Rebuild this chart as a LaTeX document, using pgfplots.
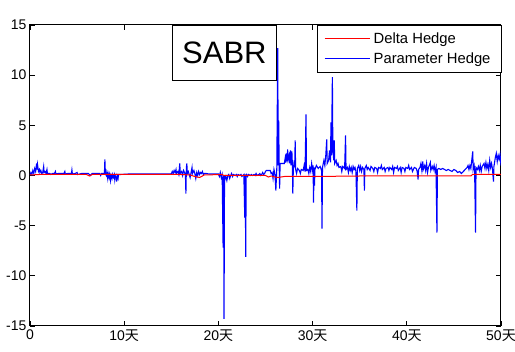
\documentclass[border=0pt]{standalone}
\usepackage{fontspec}
\setmainfont{Liberation Sans}
\newfontfamily\cjk{Noto Sans CJK SC}
\usepackage{pgfplots}
\pgfplotsset{compat=1.18}
\begin{document}
\begin{tikzpicture}
\begin{axis}[
  at={(0pt,0pt)}, anchor=south west,
  scale only axis, width=471pt, height=301pt,
  xmin=0, xmax=50, ymin=-15, ymax=15,
  xtick={0,10,20,30,40,50},
  xticklabels={0,10{\cjk 天},20{\cjk 天},30{\cjk 天},40{\cjk 天},50{\cjk 天}},
  ytick={-15,-10,-5,0,5,10,15},
  yticklabels={-15,-10,-5,0,5,10,15},
  tick align=inside, major tick length=5pt,
  tick style={black, line width=0.8pt},
  axis line style={black, line width=1pt},
  ticklabel style={font=\fontsize{14}{16}\selectfont},
  legend style={at={(1,1)}, anchor=north east, outer sep=0pt, draw=black, line width=0.8pt, fill=white,
    font=\fontsize{14.8}{16}\selectfont, inner xsep=7pt, inner ysep=4pt, row sep=1pt,
    nodes={inner sep=3.5pt}},
  legend cell align=left,
  legend image code/.code={\draw[#1, line width=1pt] (0pt,0pt) -- (45pt,0pt);},
]
\addlegendimage{red}\addlegendentry{Delta Hedge}
\addlegendimage{blue}\addlegendentry{Parameter Hedge}
\addplot[blue, line width=1.1pt, forget plot] coordinates {
(0.00,0.05) (0.10,0.30) (0.20,0.10) (0.30,0.50) (0.40,0.20) (0.50,0.70) (0.60,0.40) (0.70,1.20)
(0.75,0.60) (0.80,1.10) (0.90,0.40) (1.00,0.60) (1.05,0.30) (1.15,0.50) (1.25,0.20) (1.35,0.30)
(1.45,0.90) (1.50,0.30) (1.60,0.40) (1.70,0.20) (1.80,0.60) (1.85,0.20) (2.00,0.20) (2.10,0.20)
(2.20,0.10) (2.40,0.20) (2.60,0.20) (2.70,0.40) (2.75,0.15) (3.00,0.20) (3.40,0.20) (3.60,0.20)
(3.70,0.40) (3.75,0.15) (4.00,0.20) (4.40,0.20) (4.45,0.55) (4.50,0.15) (4.80,0.20) (5.00,0.30)
(5.05,0.10) (5.50,0.20) (6.00,0.20) (6.20,0.20) (6.40,0.00) (6.60,0.20) (7.00,0.20) (7.40,0.20)
(7.50,0.00) (7.60,0.20) (7.90,0.20) (7.95,1.60) (8.00,0.20) (8.10,0.00) (8.15,0.30) (8.25,-0.30)
(8.30,0.20) (8.40,-0.20) (8.45,0.10) (8.55,-0.50) (8.60,0.00) (8.70,-0.30) (8.75,0.10) (8.85,-0.20)
(8.95,0.10) (9.00,-0.40) (9.05,0.00) (9.15,-0.20) (9.20,-0.60) (9.25,0.00) (9.35,-0.30) (9.40,0.10)
(9.60,0.10) (10.5,0.15) (11.5,0.15) (12.5,0.15) (13.5,0.15) (14.5,0.15) (15.00,0.15) (15.10,0.40)
(15.20,0.20) (15.30,0.50) (15.40,0.30) (15.50,0.60) (15.55,0.20) (15.70,0.40) (15.80,0.10) (15.90,1.20)
(15.95,0.20) (16.10,0.40) (16.20,0.00) (16.30,0.50) (16.40,0.30) (16.50,0.10) (16.55,-1.80) (16.60,0.80)
(16.65,1.20) (16.70,0.20) (16.80,0.40) (16.90,0.10) (17.00,-0.20) (17.10,0.30) (17.20,0.80) (17.25,0.20)
(17.40,0.50) (17.50,0.20) (17.60,-0.30) (17.70,0.30) (17.80,0.00) (17.90,0.40) (18.00,0.10) (18.10,0.30)
(18.20,0.20) (18.30,0.40) (18.40,0.10) (18.50,0.20) (18.70,0.20) (19.00,0.15) (19.50,0.15) (20.00,0.15)
(20.10,-0.10) (20.20,0.30) (20.30,-0.20) (20.40,0.10) (20.50,-7.20) (20.55,0.00) (20.60,-14.30) (20.65,0.00)
(20.70,-0.40) (20.80,-0.10) (20.90,-0.50) (21.00,0.00) (21.10,0.10) (21.20,-0.30) (21.30,0.00) (21.40,0.20)
(21.50,-0.10) (21.60,0.10) (21.80,0.00) (21.90,0.10) (22.00,-0.10) (22.10,0.10) (22.30,0.00) (22.40,0.10)
(22.50,-0.10) (22.60,0.00) (22.70,0.10) (22.80,-4.20) (22.85,0.10) (22.90,-8.10) (22.95,0.00) (23.00,0.10)
(23.10,-0.10) (23.20,0.10) (23.40,0.00) (23.50,0.10) (23.60,0.00) (23.80,0.10) (23.90,0.00) (24.00,0.20)
(24.10,0.00) (24.30,0.10) (24.40,0.20) (24.50,0.00) (24.60,0.10) (24.70,0.30) (24.80,0.10) (24.90,0.20)
(25.00,0.40) (25.10,0.50) (25.50,0.50) (25.60,0.20) (25.70,0.30) (25.80,-0.30) (25.90,0.60) (26.00,0.20)
(26.10,-1.50) (26.20,0.70) (26.30,12.70) (26.35,1.00) (26.40,5.50) (26.45,1.20) (26.50,-1.30) (26.55,1.20)
(27.00,1.20) (27.10,1.80) (27.15,1.30) (27.25,2.20) (27.30,1.40) (27.35,2.60) (27.40,1.60) (27.50,2.00)
(27.55,1.20) (27.65,2.50) (27.70,1.00) (27.80,2.40) (27.85,1.20) (27.90,-1.80) (27.95,0.50) (28.05,1.50)
(28.10,0.80) (28.15,3.50) (28.20,0.60) (28.30,0.20) (28.40,0.70) (28.60,0.50) (28.70,0.20) (28.80,0.60)
(29.00,0.50) (29.10,1.00) (29.20,0.40) (29.30,6.10) (29.35,0.50) (29.50,0.60) (29.60,0.20) (29.70,0.80)
(29.80,0.40) (29.90,1.20) (30.00,0.50) (30.05,1.00) (30.10,-2.70) (30.15,0.80) (30.20,-1.00) (30.25,0.60)
(30.40,1.00) (30.60,0.70) (30.80,0.90) (30.95,0.50) (31.00,-5.30) (31.05,0.80) (31.20,1.50) (31.30,1.00)
(31.40,2.00) (31.50,3.60) (31.55,1.20) (31.70,1.50) (31.80,2.50) (31.90,1.30) (31.95,5.30) (32.00,2.00)
(32.10,9.80) (32.15,2.50) (32.25,1.50) (32.30,3.50) (32.35,1.20) (32.50,1.50) (32.60,1.00) (32.70,1.20)
(32.80,0.80) (33.00,0.90) (33.10,0.40) (33.20,0.90) (33.40,0.70) (33.50,4.00) (33.55,0.60) (33.70,0.80)
(33.80,0.30) (33.90,0.90) (34.00,0.50) (34.10,0.80) (34.20,0.30) (34.30,0.90) (34.40,0.60) (34.50,0.80)
(34.60,0.40) (34.70,-3.50) (34.75,0.70) (34.90,1.00) (35.00,0.50) (35.10,0.90) (35.20,0.40) (35.30,0.80)
(35.45,0.60) (35.50,-1.50) (35.55,0.70) (35.70,1.00) (35.80,0.60) (35.90,0.80) (36.10,0.50) (36.20,0.90)
(36.40,0.70) (36.50,0.40) (36.60,0.80) (36.80,0.70) (36.90,0.30) (37.00,0.80) (37.20,0.70) (37.30,1.00)
(37.40,0.60) (37.60,0.80) (37.70,0.40) (37.80,0.70) (38.00,0.80) (38.10,0.50) (38.20,0.80) (38.40,0.60)
(38.50,0.90) (38.60,0.30) (38.70,0.80) (38.90,0.70) (39.00,0.90) (39.10,0.50) (39.30,0.80) (39.40,0.30)
(39.50,0.80) (39.70,0.70) (39.80,0.40) (39.90,0.80) (40.10,0.70) (40.20,1.00) (40.30,0.60) (40.50,0.80)
(40.60,0.40) (40.80,0.80) (41.00,0.70) (41.10,0.40) (41.20,-0.40) (41.25,0.60) (41.40,0.80) (41.50,1.20)
(41.60,0.50) (41.70,1.40) (41.75,0.60) (41.90,1.00) (42.00,0.50) (42.10,1.20) (42.20,0.30) (42.30,0.80)
(42.50,1.30) (42.55,0.50) (42.70,0.90) (42.80,0.60) (42.90,1.00) (43.00,0.40) (43.10,0.80) (43.20,-5.70)
(43.25,0.60) (43.40,0.70) (43.60,0.60) (43.80,0.70) (44.00,0.60) (44.20,0.50) (44.40,0.60) (44.60,0.50)
(44.80,0.40) (45.00,0.60) (45.20,0.50) (45.40,0.30) (45.60,0.40) (45.80,0.20) (46.00,0.40) (46.20,0.60)
(46.40,0.80) (46.50,1.00) (46.60,0.60) (46.70,1.00) (46.80,0.70) (47.00,2.40) (47.05,0.60) (47.15,1.00)
(47.20,0.50) (47.30,-5.70) (47.35,0.80) (47.50,0.60) (47.60,0.90) (47.70,0.50) (47.80,1.00) (47.90,0.40)
(48.00,0.90) (48.20,1.20) (48.30,0.70) (48.40,1.30) (48.50,0.70) (48.60,1.10) (48.70,0.50) (48.80,1.50)
(48.90,0.80) (49.00,1.20) (49.10,0.60) (49.20,-0.60) (49.25,0.90) (49.40,1.80) (49.50,2.20) (49.60,1.40)
(49.70,2.00) (49.80,1.60) (49.90,2.10) (50.00,1.00)
};
\addplot[red, line width=1pt, forget plot] coordinates {
(0,0.05) (1,0.1) (3,0.1) (6,0.1) (6.3,-0.05) (6.6,0.1) (10,0.1) (15,0.1) (16,0.1) (17,0.05)
(17.5,-0.1) (18,-0.2) (18.5,0.05) (20.4,0.1) (20.6,0.0) (25,0.0) (25.3,-0.15) (25.6,-0.05)
(26,-0.15) (26.3,-0.2) (27,-0.1) (30,-0.1) (35,-0.05) (40,-0.05) (46.8,-0.05) (47,0.12) (50,0.12)
};
\node[draw=black, line width=0.8pt, fill=white, anchor=north west, minimum width=104pt,
  minimum height=55pt, inner sep=0pt, font=\fontsize{31}{31}\selectfont]
  at (rel axis cs:0.3015,1) {SABR};
\end{axis}
\pgfresetboundingbox
\useasboundingbox (-30pt,-26pt) rectangle (485pt,326pt);
\end{tikzpicture}
\end{document}
